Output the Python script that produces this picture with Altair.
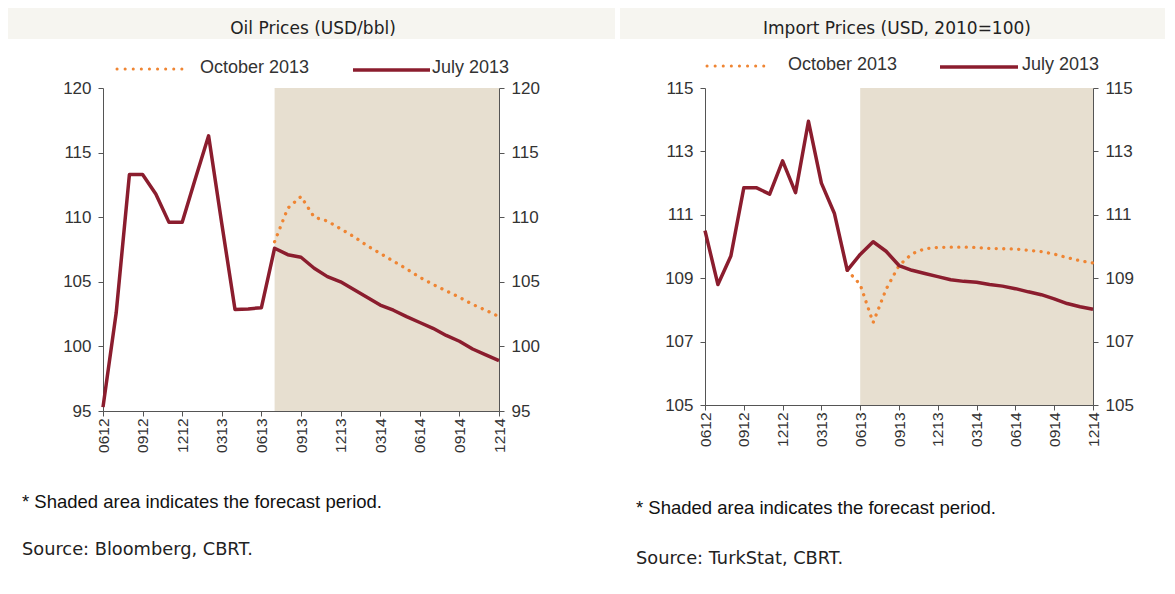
import json
import altair as alt
import pandas as pd

# ---------------- data ----------------
tick_labels = ["0612", "0912", "1212", "0313", "0613", "0913", "1213", "0314", "0614", "0914", "1214"]

oil_july = [95.3, 102.6, 113.3, 113.3, 111.8, 109.6, 109.6, 113.0, 116.3, 109.5, 102.85,
            102.9, 103.0, 107.6, 107.1, 106.9, 106.05, 105.4, 105.0, 104.4, 103.8, 103.2,
            102.8, 102.3, 101.85, 101.4, 100.85, 100.4, 99.8, 99.35, 98.9]
oil_oct = [None] * 13 + [108.1, 110.7, 111.6, 110.0, 109.7, 109.1, 108.5, 107.8, 107.2,
                         106.6, 106.0, 105.35, 104.8, 104.3, 103.8, 103.25, 102.8, 102.3]

imp_july = [110.5, 108.8, 109.7, 111.85, 111.85, 111.65, 112.7, 111.7, 113.95, 112.0, 111.05,
            109.25, 109.75, 110.15, 109.85, 109.4, 109.25, 109.15, 109.05, 108.95, 108.9,
            108.87, 108.8, 108.75, 108.67, 108.57, 108.48, 108.35, 108.2, 108.1, 108.02]
imp_oct = [None] * 11 + [109.25, 108.8, 107.6, 108.65, 109.4, 109.77, 109.93, 109.97, 109.98,
                         109.98, 109.97, 109.94, 109.93, 109.92, 109.88, 109.84, 109.76,
                         109.65, 109.55, 109.48]

oil_ticks = [95, 100, 105, 110, 115, 120]
imp_ticks = [105, 107, 109, 111, 113, 115]

series_names = ["October 2013", "July 2013"]

# ---------------- styles ----------------
RED = "#8b1d2e"
ORANGE = "#ef8533"
SHADE = "#e7dfd0"
BAND = "#f6f5f0"
AXIS = "#555555"
LABEL = "#333333"
ARIAL = "Liberation Sans"
GOTHIC = "DejaVu Sans"


def one(**kw):
    return alt.Chart(pd.DataFrame(kw if kw else {"a": [0]}))


def txt(s, x, y, font, size, color, align="left"):
    return one(t=[s]).mark_text(align=align, baseline="middle", font=font,
                                fontSize=size, color=color).encode(
        x=alt.value(x), y=alt.value(y), text="t:N")


def panel(july, octo, shade_start, ticks, W, H, title, title_x, band, legend, foot, source):
    n = len(july)
    dj = pd.DataFrame({"m": list(range(n)), "v": july})
    do = pd.DataFrame({"m": list(range(n)), "v": octo}).dropna()
    xscale = alt.Scale(domain=[0, n - 1], nice=False, zero=False)
    xaxis = alt.Axis(values=list(range(0, n, 3)),
                     labelExpr=json.dumps(tick_labels) + "[round(datum.value/3)]",
                     labelAngle=270, title=None, grid=False, tickSize=5, labelPadding=2,
                     labelFont=ARIAL, labelFontSize=15.5, labelColor=LABEL,
                     domainColor=AXIS, tickColor=AXIS)
    yscale = alt.Scale(domain=[ticks[0], ticks[-1]], nice=False, zero=False)

    def yaxis(orient):
        return alt.Axis(values=ticks, orient=orient, title=None, grid=False, tickSize=5,
                        labelPadding=7, labelFont=ARIAL, labelFontSize=17, labelColor=LABEL,
                        domainColor=AXIS, tickColor=AXIS)

    bx1, bx2 = band
    band_rect = one().mark_rect(color=BAND).encode(
        x=alt.value(bx1), x2=alt.value(bx2), y=alt.value(-80), y2=alt.value(-49))
    title_t = txt(title, title_x, -59, GOTHIC, 17, "#222222", align="center")

    shade = one(s=[shade_start], e=[n - 1]).mark_rect(color=SHADE).encode(
        x=alt.X("s:Q", scale=xscale, axis=xaxis), x2="e:Q",
        y=alt.value(0), y2=alt.value(H))

    oct_line = alt.Chart(do).mark_line(color=ORANGE, strokeWidth=3.3, strokeDash=[0.1, 7.4],
                                       strokeCap="round").encode(
        x=alt.X("m:Q", scale=xscale, axis=xaxis),
        y=alt.Y("v:Q", scale=yscale, axis=yaxis("left")))
    jul_line = alt.Chart(dj).mark_line(color=RED, strokeWidth=3.5, strokeJoin="round").encode(
        x=alt.X("m:Q", scale=xscale, axis=xaxis),
        y=alt.Y("v:Q", scale=yscale, axis=yaxis("right")))

    (d1, d2, dy, t1x, r1, r2, t2x) = legend
    leg = [
        one().mark_rule(color=ORANGE, strokeWidth=3, strokeDash=[0.1, 8], strokeCap="round").encode(
            x=alt.value(d1), x2=alt.value(d2), y=alt.value(dy)),
        txt(series_names[0], t1x, dy - 1, ARIAL, 18, LABEL),
        one().mark_rule(color=RED, strokeWidth=3.5).encode(
            x=alt.value(r1), x2=alt.value(r2), y=alt.value(dy + 1)),
        txt(series_names[1], t2x, dy - 1, ARIAL, 18, LABEL),
    ]
    fx, f1y, sy = foot
    notes = [
        txt("* Shaded area indicates the forecast period.", fx, f1y, ARIAL, 18.5, "#111111"),
        txt(source, fx, sy, GOTHIC, 17.8, "#222222"),
    ]
    return alt.layer(band_rect, title_t, shade, oct_line, jul_line, *leg, *notes).resolve_scale(
        y="independent").properties(width=W, height=H)


left = panel(oil_july, oil_oct, 13, oil_ticks, 396, 323, "Oil Prices (USD/bbl)", 210,
             (-95, 512), (14, 84, -19, 97, 250, 327, 329), (-81, 414, 462),
             "Source: Bloomberg, CBRT.")
right = panel(imp_july, imp_oct, 12, imp_ticks, 388, 317, "Import Prices (USD, 2010=100)", 192,
              (-85, 460), (2, 60, -22, 83, 235, 313, 317), (-69, 420, 471),
              "Source: TurkStat, CBRT.")

chart = alt.hconcat(left, right, spacing=5).properties(padding=0).configure_view(stroke=None)

chart.save("out.html", embed_options={"renderer": "svg", "actions": False})
